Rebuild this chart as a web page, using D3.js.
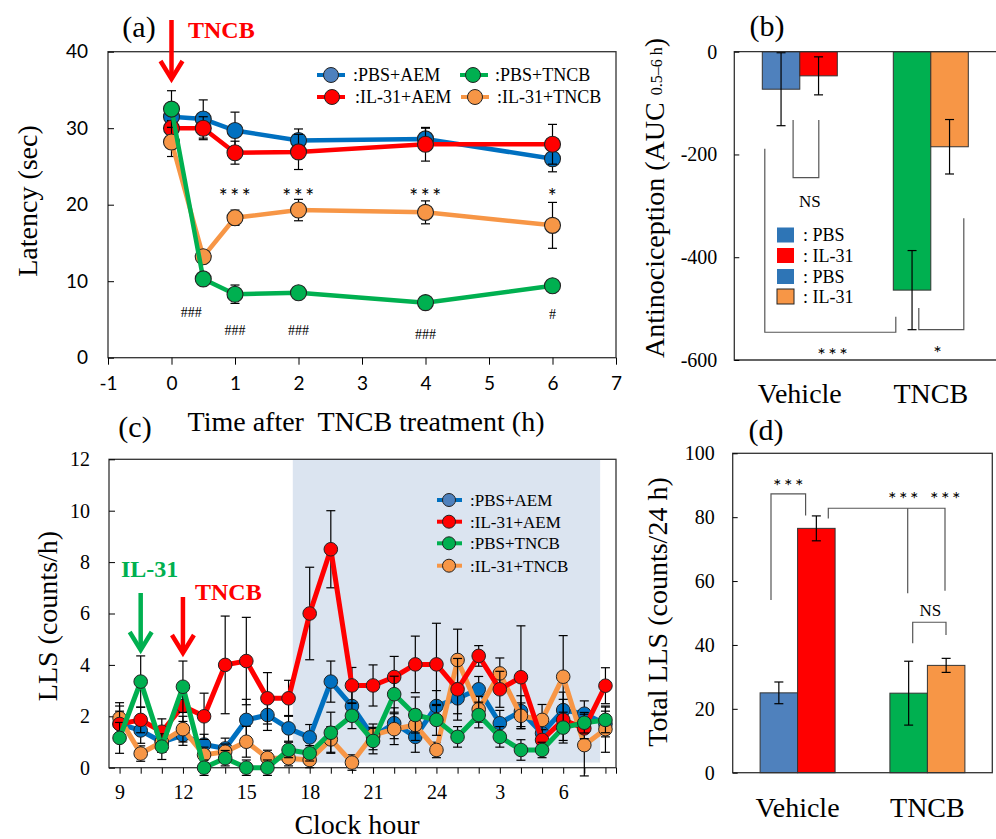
<!DOCTYPE html>
<html><head><meta charset="utf-8">
<script src="https://cdn.jsdelivr.net/npm/d3@7"></script>
<style>
body{margin:0;background:#fff}
svg{display:block}
</style>
</head><body>
<svg id="fig" width="996" height="839"></svg>
<script>
// ---------------- data ----------------
// (a) paw-withdrawal latency after TNCB treatment
const timeHours = [0, 0.5, 1, 2, 4, 6];
const latPbsAem = [31.5, 31.2, 29.7, 28.4, 28.6, 26.0];
const errPbsAem = [1.0, 2.5, 2.4, 1.5, 1.4, 1.7];
const latIl31Aem = [30.0, 30.0, 26.8, 26.9, 27.9, 27.9];
const errIl31Aem = [1.0, 1.5, 1.5, 2.3, 2.2, 2.6];
const latPbsTncb = [32.5, 10.3, 8.3, 8.5, 7.2, 9.4];
const errPbsTncb = [2.4, 0.5, 1.2, 0.5, 0.4, 0.6];
const latIl31Tncb = [28.2, 13.2, 18.3, 19.3, 19.0, 17.3];
const errIl31Tncb = [1.9, 0.5, 1.0, 1.4, 1.5, 3.0];
const starsA = ['', '', '***', '***', '***', '*'];
const hashA = ['', '###', '###', '###', '###', '#'];
const xTicksA = [-1, 0, 1, 2, 3, 4, 5, 6, 7];
const yTicksA = [0, 10, 20, 30, 40];

// (b) antinociception AUC 0.5-6 h
const groups = ['Vehicle', 'TNCB'];
const aucPbs = [-73, -464];
const aucPbsErr = [71, 77];
const aucIl31 = [-47, -185];
const aucIl31Err = [37, 53];
const yTicksB = [-600, -400, -200, 0];

// (c) hourly LLS counts, clock hours 9:00 to 8:00 next day
const clockHours = [9, 10, 11, 12, 13, 14, 15, 16, 17, 18, 19, 20, 21, 22, 23, 24, 25, 26, 27, 28, 29, 30, 31, 32];
const llsPbsAem = [1.7, 1.45, 1.0, 1.27, 0.9, 0.75, 1.86, 2.05, 1.53, 1.18, 3.35, 2.4, 1.2, 1.73, 1.2, 2.4, 2.7, 3.05, 1.73, 2.2, 1.34, 2.24, 2.1, 1.7];
const llsPbsAemErr = [0.7, 0.5, 0.4, 0.4, 0.4, 0.4, 0.8, 0.6, 0.5, 0.5, 0.8, 0.6, 0.5, 0.6, 0.6, 0.6, 0.6, 0.5, 0.5, 0.6, 0.5, 0.7, 0.5, 0.5];
const llsIl31Aem = [1.7, 1.86, 1.4, 2.4, 2.0, 4.0, 4.15, 2.7, 2.7, 6.0, 8.5, 3.2, 3.2, 3.53, 4.02, 4.02, 3.05, 4.35, 3.05, 3.52, 1.08, 1.86, 1.53, 3.19];
const llsIl31AemErr = [0.5, 0.5, 0.5, 0.6, 0.9, 1.9, 1.7, 1.0, 0.7, 1.8, 1.5, 0.7, 0.8, 0.8, 1.1, 1.6, 1.2, 0.4, 0.7, 2.0, 0.4, 0.8, 0.4, 0.7];
const llsPbsTncb = [1.16, 3.35, 0.82, 3.15, 0, 0.37, 0, 0, 0.69, 0.56, 1.36, 2.02, 1.04, 2.86, 2.05, 1.86, 1.2, 2.05, 1.2, 0.69, 0.69, 1.56, 1.75, 1.86];
const llsPbsTncbErr = [0.6, 1.0, 0.5, 1.0, 0.3, 0.3, 0.3, 0.3, 0.3, 0.3, 0.8, 0.5, 0.5, 0.7, 0.7, 0.6, 0.4, 0.5, 0.4, 0.4, 0.3, 0.6, 0.4, 0.5];
const llsIl31Tncb = [1.93, 0.55, 1.0, 1.5, 0.5, 0.62, 1.01, 0.38, 0.37, 0.3, 1.1, 0.2, 1.27, 1.5, 1.66, 0.69, 4.19, 2.27, 3.67, 2.02, 1.86, 3.54, 0.88, 1.5];
const llsIl31TncbErr = [0.6, 0.3, 0.4, 0.5, 0.3, 0.3, 0.6, 0.3, 0.3, 0.3, 0.5, 0.3, 0.3, 0.6, 0.6, 0.3, 1.2, 0.5, 0.6, 0.5, 0.6, 1.6, 1.2, 0.9];
const xTickLabelHours = [9, 12, 15, 18, 21, 24, 27, 30];
const xTickLabelsC = ['9', '12', '15', '18', '21', '24', '3', '6'];
const yTicksC = [0, 2, 4, 6, 8, 10, 12];
const darkPeriod = [17.2, 31.75];

// (d) total LLS per 24 h
const totalPbs = [25.0, 24.9];
const totalPbsErr = [3.4, 10.0];
const totalIl31 = [76.5, 33.6];
const totalIl31Err = [3.9, 2.2];
const yTicksD = [0, 20, 40, 60, 80, 100];

// ---------------- styling ----------------
const SERIF = '"Liberation Serif", "Times New Roman", "DejaVu Serif", serif';
const SANS = 'Lato, "Open Sans", "Liberation Sans", sans-serif';
const COL = {blue: '#0070c0', red: '#ff0000', green: '#00b050', orange: '#f79646', barBlue: '#4f81bd', legBlue: '#2e75b6'};
const TITLE = 28;   // axis titles and category names
const PANEL = 30;   // (a)-(d) panel letters

const svg = d3.select('#fig');
svg.append('rect').attr('width', 996).attr('height', 839).attr('fill', '#fff');

function styleAxis(g, font, size) {
  g.select('.domain').remove();
  g.selectAll('.tick line').attr('stroke', '#000').attr('stroke-width', 1);
  g.selectAll('.tick text').attr('font-family', font).attr('font-size', size).attr('fill', '#000');
}
function txt(x, y, s, opt = {}) {
  return svg.append('text').attr('x', x).attr('y', y).text(s)
    .attr('font-family', opt.font || SERIF).attr('font-size', opt.size || 20)
    .attr('fill', opt.fill || '#000').attr('text-anchor', opt.anchor || 'middle')
    .attr('font-weight', opt.weight || 'normal');
}
function stars(x, y, s, size) {
  // asterisk groups, spaced like the originals
  return txt(x, y, s, {font: SANS, size: size || 21}).attr('letter-spacing', 2.5);
}
function vLabel(x, y, s, size) {
  return svg.append('text').attr('transform', `translate(${x},${y}) rotate(-90)`)
    .attr('text-anchor', 'middle').attr('font-family', SERIF).attr('font-size', size).attr('fill', '#000').text(s);
}
function errorBars(g, xs, ys, es, xScale, yScale, cap) {
  xs.forEach((x, i) => {
    if (!es[i]) return;
    const px = xScale(x), y1 = yScale(ys[i] - es[i]), y2 = yScale(ys[i] + es[i]);
    g.append('line').attr('x1', px).attr('x2', px).attr('y1', y1).attr('y2', y2).attr('stroke', '#000').attr('stroke-width', 1.2);
    [y1, y2].forEach(yy => g.append('line').attr('x1', px - cap).attr('x2', px + cap).attr('y1', yy).attr('y2', yy).attr('stroke', '#000').attr('stroke-width', 1.2));
  });
}
function downArrow(x, y0, y1, color) {
  svg.append('line').attr('x1', x).attr('x2', x).attr('y1', y0).attr('y2', y1 - 2).attr('stroke', color).attr('stroke-width', 4.5);
  svg.append('polyline').attr('points', `${x - 11},${y1 - 18} ${x},${y1} ${x + 11},${y1 - 18}`)
    .attr('fill', 'none').attr('stroke', color).attr('stroke-width', 4.5).attr('stroke-linejoin', 'miter');
}

// ================= (a) =================
const xA = d3.scaleLinear().domain([-1, 7]).range([108, 616]);
const yA = d3.scaleLinear().domain([0, 40]).range([357.7, 51.7]);
svg.append('rect').attr('x', xA(-1)).attr('y', yA(40)).attr('width', xA(7) - xA(-1)).attr('height', yA(0) - yA(40))
  .attr('fill', 'none').attr('stroke', '#333').attr('stroke-width', 1.3);
svg.append('g').attr('transform', `translate(0,${yA(0)})`)
  .call(d3.axisBottom(xA).tickValues(xTicksA).tickSizeInner(7).tickSizeOuter(0).tickPadding(12).tickFormat(d => String(d)))
  .call(g => styleAxis(g, SANS, 19));
svg.append('g').attr('transform', `translate(${xA(-1)},0)`)
  .call(d3.axisLeft(yA).tickValues(yTicksA).tickSizeInner(-6).tickSizeOuter(0).tickPadding(20))
  .call(g => styleAxis(g, SANS, 19));

const seriesA = [
  {label: ':PBS+AEM', color: COL.blue, v: latPbsAem, e: errPbsAem},
  {label: ':IL-31+AEM', color: COL.red, v: latIl31Aem, e: errIl31Aem},
  {label: ':PBS+TNCB', color: COL.green, v: latPbsTncb, e: errPbsTncb},
  {label: ':IL-31+TNCB', color: COL.orange, v: latIl31Tncb, e: errIl31Tncb}
];
const gA = svg.append('g');
[0, 1, 3, 2].forEach(k => {
  const s = seriesA[k];
  errorBars(gA, timeHours, s.v, s.e, xA, yA, 4.5);
  gA.append('path').datum(s.v).attr('fill', 'none').attr('stroke', s.color).attr('stroke-width', 4.5)
    .attr('d', d3.line().x((d, i) => xA(timeHours[i])).y(d => yA(d)));
  gA.selectAll(null).data(s.v).enter().append('circle')
    .attr('cx', (d, i) => xA(timeHours[i])).attr('cy', d => yA(d)).attr('r', 8)
    .attr('fill', s.color).attr('stroke', '#222').attr('stroke-width', 1.1);
});
// significance marks
const starLevelA = 21.8;
const hashLevelA = [null, 6.0, 3.6, 3.6, 3.1, 5.7];
const hashShiftA = [0, -0.19, 0, 0, 0, 0];
starsA.forEach((s, i) => { if (s) stars(xA(timeHours[i]) + 1, yA(starLevelA) + 13, s); });
hashA.forEach((s, i) => { if (s) txt(xA(timeHours[i] + hashShiftA[i]), yA(hashLevelA[i]) + 5, s, {size: 14}); });
// legend
const legA = [[317, 345, 331, 353, 75], [317, 345, 332, 355, 97], [460, 488, 473, 495, 75], [461, 489, 475, 497, 97]];
seriesA.forEach((s, k) => {
  const [x1, x2, cx, tx, y] = legA[k];
  svg.append('line').attr('x1', x1).attr('x2', x2).attr('y1', y).attr('y2', y).attr('stroke', s.color).attr('stroke-width', 4);
  svg.append('circle').attr('cx', cx).attr('cy', y).attr('r', 7.5).attr('fill', k === 0 ? COL.barBlue : s.color).attr('stroke', '#222').attr('stroke-width', 1);
  txt(tx, y + 6, s.label, {size: 18, anchor: 'start'});
});
txt(139, 37, '(a)', {size: PANEL});
downArrow(xA(0), 20, 79, COL.red);
txt(188, 38, 'TNCB', {size: 24, weight: 'bold', fill: COL.red, anchor: 'start'});
vLabel(37, 201, 'Latency (sec)', TITLE);
txt(366, 431, 'Time after  TNCB treatment (h)', {size: TITLE}).style('white-space', 'pre');

// ================= (b) =================
const xB = d3.scaleBand().domain(groups).range([734.3, 996.3]);
const subB = d3.scaleBand().domain([0, 1]).range([-37.5, 37.5]);
const yB = d3.scaleLinear().domain([-600, 0]).range([360, 51.7]);
const cB = g => xB(g) + xB.bandwidth() / 2;
const barColorsB = [[COL.barBlue, COL.red], [COL.green, COL.orange]];
groups.forEach((g, gi) => {
  [[aucPbs, aucPbsErr], [aucIl31, aucIl31Err]].forEach(([vals, errs], si) => {
    const x0 = cB(g) + subB(si), w = subB.bandwidth(), v = vals[gi];
    svg.append('rect').attr('x', x0).attr('y', yB(0)).attr('width', w).attr('height', yB(v) - yB(0))
      .attr('fill', barColorsB[gi][si]).attr('stroke', '#333').attr('stroke-width', 1);
    const cx = x0 + w / 2, y1 = yB(v - errs[gi]), y2 = yB(v + errs[gi]);
    svg.append('line').attr('x1', cx).attr('x2', cx).attr('y1', y1).attr('y2', y2).attr('stroke', '#000').attr('stroke-width', 1.2);
    [y1, y2].forEach(yy => svg.append('line').attr('x1', cx - 4.5).attr('x2', cx + 4.5).attr('y1', yy).attr('y2', yy).attr('stroke', '#000').attr('stroke-width', 1.2));
  });
});
// frame: left, top, bottom (runs off the right edge)
svg.append('path').attr('d', `M996,${yB(0)}H${xB.range()[0]}V${yB(-600)}H996`).attr('fill', 'none').attr('stroke', '#333').attr('stroke-width', 1.3);
svg.append('g').attr('transform', `translate(${xB.range()[0]},0)`)
  .call(d3.axisLeft(yB).tickValues(yTicksB).tickSizeInner(-5).tickSizeOuter(0).tickPadding(17).tickFormat(d => String(d)))
  .call(g => styleAxis(g, SERIF, 20));
groups.forEach(g => txt(cB(g), 403, g, {size: TITLE}));
txt(767, 36, '(b)', {size: PANEL});
{
  const t = svg.append('text').attr('transform', `translate(664,198) rotate(-90)`).attr('text-anchor', 'middle')
    .attr('font-family', SERIF).attr('font-size', TITLE).attr('fill', '#000');
  t.append('tspan').text('Antinociception (AUC ');
  t.append('tspan').attr('font-size', 16).attr('dy', -2).text('0.5–6 h');
  t.append('tspan').attr('dy', 2).text(')');
}
// brackets
const vC = cB('Vehicle'), tC = cB('TNCB');
function bracket(pts) {
  svg.append('path').attr('d', d3.line()(pts)).attr('fill', 'none').attr('stroke', '#555').attr('stroke-width', 1.2);
}
bracket([[vC - 6.7, yB(-133)], [vC - 6.7, yB(-245)], [vC + 19, yB(-245)], [vC + 19, yB(-133)]]);
txt(vC + 10, 207, 'NS', {size: 17});
bracket([[vC - 35, yB(-189)], [vC - 35, yB(-546)], [tC - 35, yB(-546)], [tC - 35, yB(-516)]]);
stars(vC + 34, 362, '***', 20);
bracket([[tC - 12, yB(-499)], [tC - 12, yB(-541)], [tC + 33, yB(-541)], [tC + 33, yB(-324)]]);
stars(tC + 8, 360, '*', 20);
// legend
const legB = [[': PBS', COL.legBlue, 'none'], [': IL-31', COL.red, 'none'], [': PBS', COL.legBlue, 'none'], [': IL-31', COL.orange, '#222']];
legB.forEach(([lab, fill, stroke], k) => {
  const y = [235, 255.5, 276.5, 296.5][k];
  svg.append('rect').attr('x', 777).attr('y', y - 7.5).attr('width', 17).attr('height', 15).attr('fill', fill).attr('stroke', stroke).attr('stroke-width', 1);
  txt(803, y + 6, lab, {size: 18, anchor: 'start'});
});

// ================= (c) =================
const xC = d3.scaleLinear().domain([8.5, 32.5]).range([109, 616]);
const yC = d3.scaleLinear().domain([0, 12]).range([767.7, 459.3]);
svg.append('rect').attr('x', xC(darkPeriod[0])).attr('y', yC(12)).attr('width', xC(darkPeriod[1]) - xC(darkPeriod[0]))
  .attr('height', yC(0.2) - yC(12)).attr('fill', '#dbe4f0');
svg.append('rect').attr('x', xC(8.5)).attr('y', yC(12)).attr('width', xC(32.5) - xC(8.5)).attr('height', yC(0) - yC(12))
  .attr('fill', 'none').attr('stroke', '#333').attr('stroke-width', 1.3);
svg.append('g').attr('transform', `translate(0,${yC(0)})`)
  .call(d3.axisBottom(xC).tickValues(clockHours.concat([32.5])).tickSizeInner(6).tickSizeOuter(0).tickPadding(11)
    .tickFormat(d => { const i = xTickLabelHours.indexOf(d); return i >= 0 ? xTickLabelsC[i] : ''; }))
  .call(g => styleAxis(g, SERIF, 20));
svg.append('g').attr('transform', `translate(${xC(8.5)},0)`)
  .call(d3.axisLeft(yC).tickValues(yTicksC).tickSizeInner(-6).tickSizeOuter(0).tickPadding(19))
  .call(g => styleAxis(g, SERIF, 20));

const seriesC = [
  {label: ':PBS+AEM', color: COL.blue, v: llsPbsAem, e: llsPbsAemErr},
  {label: ':IL-31+AEM', color: COL.red, v: llsIl31Aem, e: llsIl31AemErr},
  {label: ':PBS+TNCB', color: COL.green, v: llsPbsTncb, e: llsPbsTncbErr},
  {label: ':IL-31+TNCB', color: COL.orange, v: llsIl31Tncb, e: llsIl31TncbErr}
];
const gC = svg.append('g');
[0, 3, 1, 2].forEach(k => {
  const s = seriesC[k];
  errorBars(gC, clockHours, s.v, s.e, xC, yC, 4.5);
  gC.append('path').datum(s.v).attr('fill', 'none').attr('stroke', s.color).attr('stroke-width', 5).attr('stroke-linejoin', 'round')
    .attr('d', d3.line().x((d, i) => xC(clockHours[i])).y(d => yC(d)));
  gC.selectAll(null).data(s.v).enter().append('circle')
    .attr('cx', (d, i) => xC(clockHours[i])).attr('cy', d => yC(d)).attr('r', 6.8)
    .attr('fill', s.color).attr('stroke', '#222').attr('stroke-width', 1);
});
// legend
seriesC.forEach((s, k) => {
  const y = [500, 521.7, 543.3, 565.7][k];
  svg.append('line').attr('x1', 437).attr('x2', 462).attr('y1', y).attr('y2', y).attr('stroke', s.color).attr('stroke-width', 4);
  svg.append('circle').attr('cx', 449).attr('cy', y).attr('r', 6.5).attr('fill', k === 0 ? COL.barBlue : s.color).attr('stroke', '#222').attr('stroke-width', 1);
  txt(470, y + 6, s.label, {size: 17, anchor: 'start'});
});
downArrow(xC(10), 593, 650, COL.green);
txt(121, 577, 'IL-31', {size: 24, weight: 'bold', fill: COL.green, anchor: 'start'});
downArrow(xC(12), 597, 653, COL.red);
txt(195, 600, 'TNCB', {size: 24, weight: 'bold', fill: COL.red, anchor: 'start'});
txt(135, 437, '(c)', {size: PANEL});
vLabel(57, 616, 'LLS (counts/h)', TITLE);
txt(357, 834, 'Clock hour', {size: TITLE});

// ================= (d) =================
const xD = d3.scaleBand().domain(groups).range([732.7, 992.3]);
const subD = d3.scaleBand().domain([0, 1]).range([-37.5, 37.5]);
const yD = d3.scaleLinear().domain([0, 100]).range([772.7, 453.3]);
const cD = g => xD(g) + xD.bandwidth() / 2;
groups.forEach((g, gi) => {
  [[totalPbs, totalPbsErr], [totalIl31, totalIl31Err]].forEach(([vals, errs], si) => {
    const x0 = cD(g) + subD(si), w = subD.bandwidth(), v = vals[gi];
    svg.append('rect').attr('x', x0).attr('y', yD(v)).attr('width', w).attr('height', yD(0) - yD(v))
      .attr('fill', barColorsB[gi][si]).attr('stroke', '#333').attr('stroke-width', 1);
    const cx = x0 + w / 2, y1 = yD(v - errs[gi]), y2 = yD(v + errs[gi]);
    svg.append('line').attr('x1', cx).attr('x2', cx).attr('y1', y1).attr('y2', y2).attr('stroke', '#000').attr('stroke-width', 1.2);
    [y1, y2].forEach(yy => svg.append('line').attr('x1', cx - 4.5).attr('x2', cx + 4.5).attr('y1', yy).attr('y2', yy).attr('stroke', '#000').attr('stroke-width', 1.2));
  });
});
svg.append('rect').attr('x', xD.range()[0]).attr('y', yD(100)).attr('width', xD.range()[1] - xD.range()[0]).attr('height', yD(0) - yD(100))
  .attr('fill', 'none').attr('stroke', '#333').attr('stroke-width', 1.3);
svg.append('g').attr('transform', `translate(${xD.range()[0]},0)`)
  .call(d3.axisLeft(yD).tickValues(yTicksD).tickSizeInner(-5).tickSizeOuter(0).tickPadding(18))
  .call(g => styleAxis(g, SERIF, 20));
groups.forEach(g => txt(cD(g), 817, g, {size: TITLE}));
txt(766, 440, '(d)', {size: PANEL});
vLabel(667, 612, 'Total LLS (counts/24 h)', TITLE);
const vD = cD('Vehicle'), tD = cD('TNCB');
bracket([[vD - 26.6, yD(54.1)], [vD - 26.6, yD(87.3)], [vD + 8, yD(87.3)], [vD + 8, yD(80.5)]]);
stars(vD - 8, 493, '***', 20);
bracket([[vD + 30.7, yD(79.6)], [vD + 30.7, yD(82.8)], [tD + 17.6, yD(82.8)], [tD + 17.6, yD(57)]]);
bracket([[tD - 19.7, yD(82.8)], [tD - 19.7, yD(56.2)]]);
stars(tD - 23, 506, '***', 20);
stars(tD + 19, 506, '***', 20);
bracket([[tD - 14.7, yD(40.5)], [tD - 14.7, yD(47.1)], [tD + 18.6, yD(47.1)], [tD + 18.6, yD(43.1)]]);
txt(tD + 3, 616, 'NS', {size: 17});
</script>
</body></html>
